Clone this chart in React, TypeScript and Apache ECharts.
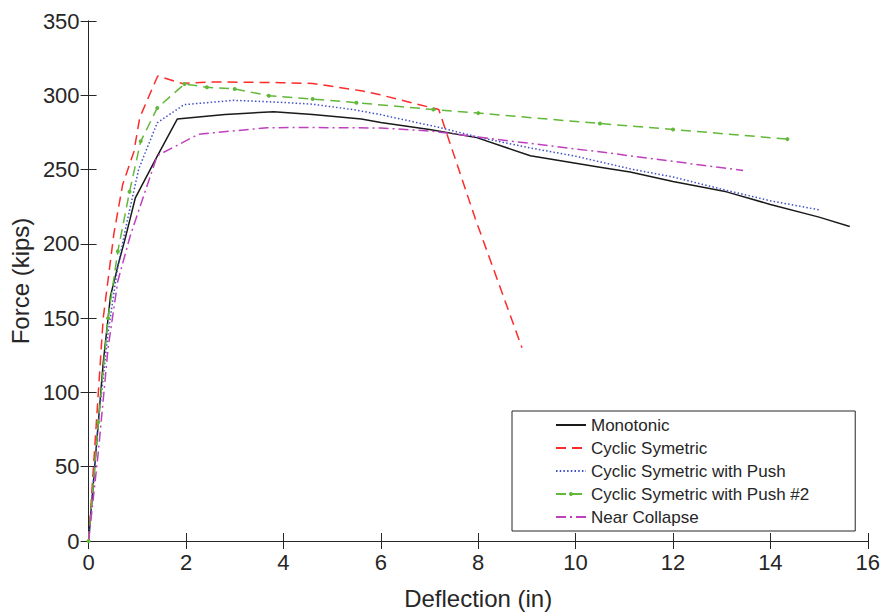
import React, { useEffect, useRef } from "react";
import * as echarts from "echarts";

const xTicks = [0, 2, 4, 6, 8, 10, 12, 14, 16];
const yTicks = [0, 50, 100, 150, 200, 250, 300, 350];

const monotonic: [number, number][] = [
  [0, 0], [0.15, 60], [0.3, 120], [0.45, 165], [0.6, 185], [0.77, 206], [0.96, 231],
  [1.41, 259], [1.82, 284], [2.8, 287], [3.8, 289], [4.6, 287], [5.6, 284], [6.0, 281.7],
  [7.0, 277], [7.97, 271.5], [9.07, 259.3], [10.5, 251.6], [11.12, 248.3], [12, 242],
  [13.1, 235], [14, 226.5], [15, 218], [15.63, 211.7],
];
const cyclicSym: [number, number][] = [
  [0, 0], [0.1, 50], [0.2, 100], [0.3, 150], [0.52, 207], [0.7, 240], [0.93, 262],
  [1.05, 285], [1.31, 304.8], [1.42, 313], [1.92, 308], [2.5, 309], [3.94, 308.5],
  [4.6, 308], [5.6, 303], [5.99, 300.3], [7.19, 290.4], [7.94, 217], [8.9, 130],
];
const cyclicPush: [number, number][] = [
  [0, 0], [0.2, 80], [0.4, 140], [0.6, 185], [0.79, 215], [1.03, 250.5], [1.41, 281.5],
  [1.96, 293.7], [2.98, 296.6], [3.94, 295.3], [4.6, 294], [5.5, 290], [5.99, 287],
  [7.25, 278], [8.04, 271.5], [9, 265], [10, 259], [11.12, 250.5], [12, 245],
  [13.1, 236], [14, 229], [15.02, 222.8],
];
const cyclicPush2: [number, number][] = [
  [0, 0], [0.2, 80], [0.4, 150], [0.6, 195], [0.84, 235], [1.07, 269], [1.41, 291.5],
  [1.97, 307.6], [2.43, 305.4], [3.0, 304.3], [3.7, 299.7], [4.6, 297.5], [5.5, 295],
  [7.08, 290.4], [8, 288], [10.5, 281], [12, 277], [14.35, 270.5],
];
const nearCollapse: [number, number][] = [
  [0, 0], [0.2, 60], [0.4, 130], [0.6, 175], [0.86, 206], [1.41, 259.4], [2.26, 273.8],
  [3.67, 278.2], [4.6, 278.3], [5.99, 278], [7.0, 276], [7.97, 272], [10.57, 261.6],
  [13.44, 249.4],
];

const seriesNames = [
  "Monotonic",
  "Cyclic Symetric",
  "Cyclic Symetric with Push",
  "Cyclic Symetric with Push #2",
  "Near Collapse",
];

const FONT = "'Liberation Sans', Arial, Helvetica, sans-serif";
const AXIS_COLOR = "#262626";

export default function App() {
  const ref = useRef<HTMLDivElement>(null);
  useEffect(() => {
    if (!ref.current) return;
    const chart = echarts.init(ref.current, null, { renderer: "svg" });
    const axisLine = { show: true, lineStyle: { color: AXIS_COLOR, width: 1 } };
    const axisTick = { show: true, inside: true, length: 8, lineStyle: { color: AXIS_COLOR, width: 1 } };
    chart.setOption({
      animation: false,
      backgroundColor: "#ffffff",
      textStyle: { fontFamily: FONT },
      grid: { left: 88, right: 12, top: 21, bottom: 68, containLabel: false },
      legend: {
        orient: "vertical",
        left: 512,
        top: 411,
        padding: [5, 46, 5, 43],
        itemWidth: 30,
        itemHeight: 5,
        itemGap: 5,
        borderColor: AXIS_COLOR,
        borderWidth: 1,
        backgroundColor: "#ffffff",
        textStyle: { fontFamily: FONT, fontSize: 17, color: AXIS_COLOR, lineHeight: 18 },
        data: seriesNames.map((n) =>
          n === "Cyclic Symetric with Push #2"
            ? { name: n, itemStyle: { opacity: 1 } }
            : { name: n, itemStyle: { opacity: 0 } }
        ),
      },
      xAxis: [
        {
          type: "value", min: 0, max: 16, interval: 2, position: "bottom",
          name: "Deflection (in)", nameLocation: "middle", nameGap: 45,
          nameTextStyle: { fontFamily: FONT, fontSize: 24, color: AXIS_COLOR },
          axisLine, axisTick,
          axisLabel: { fontFamily: FONT, fontSize: 22, color: AXIS_COLOR, margin: 10 },
          splitLine: { show: false },
        },
        {
          type: "value", min: 0, max: 16, interval: 2, position: "top",
          axisLine, axisTick, axisLabel: { show: false }, splitLine: { show: false },
        },
      ],
      yAxis: [
        {
          type: "value", min: 0, max: 350, interval: 50, position: "left",
          name: "Force (kips)", nameLocation: "middle", nameGap: 52,
          nameTextStyle: { fontFamily: FONT, fontSize: 24, color: AXIS_COLOR },
          axisLine, axisTick,
          axisLabel: { fontFamily: FONT, fontSize: 22, color: AXIS_COLOR, margin: 9 },
          splitLine: { show: false },
        },
        {
          type: "value", min: 0, max: 350, interval: 50, position: "right",
          axisLine, axisTick, axisLabel: { show: false }, splitLine: { show: false },
        },
      ],
      series: [
        {
          name: seriesNames[0], type: "line", data: monotonic, symbol: "none",
          lineStyle: { color: "#1a1a1a", width: 1.5, type: "solid" }, itemStyle: { color: "#1a1a1a" },
        },
        {
          name: seriesNames[1], type: "line", data: cyclicSym, symbol: "none",
          lineStyle: { color: "#ff2a2a", width: 1.5, type: [10, 6] }, itemStyle: { color: "#ff2a2a" },
        },
        {
          name: seriesNames[2], type: "line", data: cyclicPush, symbol: "none",
          lineStyle: { color: "#3f50c4", width: 1.5, type: [1.5, 2.2] }, itemStyle: { color: "#3f50c4" },
        },
        {
          name: seriesNames[3], type: "line", data: cyclicPush2,
          symbol: "circle", symbolSize: 4, showSymbol: true,
          lineStyle: { color: "#62b83a", width: 1.5, type: [10, 6] },
          itemStyle: { color: "#62b83a", borderWidth: 0 },
        },
        {
          name: seriesNames[4], type: "line", data: nearCollapse, symbol: "none",
          lineStyle: { color: "#bf40bf", width: 1.5, type: [10, 4, 2, 4] }, itemStyle: { color: "#bf40bf" },
        },
      ],
    });
    return () => chart.dispose();
  }, []);
  return <div ref={ref} style={{ width: 883, height: 615, position: "absolute", left: 0, top: 0 }} />;
}
